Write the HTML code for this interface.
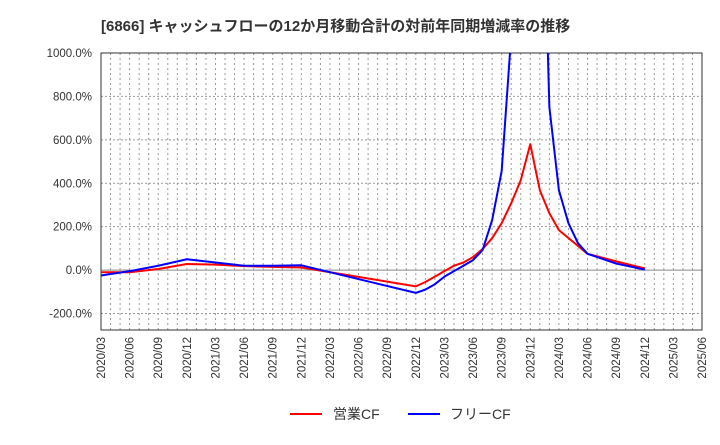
<!DOCTYPE html>
<html><head><meta charset="utf-8"><style>
body{margin:0;background:#fff;font-family:"Liberation Sans","Noto Sans CJK JP",sans-serif;}
svg text{font-family:"Liberation Sans","Noto Sans CJK JP",sans-serif;}
</style></head><body>
<svg id="c" width="720" height="440" xmlns="http://www.w3.org/2000/svg">
<text x="101" y="31" font-size="15" font-weight="bold" fill="#333">[6866]  キャッシュフローの12か月移動合計の対前年同期増減率の推移</text>
<g id="grid"></g><g id="axes"></g><g id="series"></g>
<g>
<line x1="290" y1="414" x2="322" y2="414" stroke="#f00" stroke-width="2"/>
<text x="333" y="419" font-size="14" fill="#333">営業CF</text>
<line x1="408" y1="414" x2="440" y2="414" stroke="#00f" stroke-width="2"/>
<text x="450" y="419" font-size="14" fill="#333">フリーCF</text>
</g>
</svg>
<script>
const xLabels=["2020/03","2020/06","2020/09","2020/12","2021/03","2021/06","2021/09","2021/12","2022/03","2022/06","2022/09","2022/12","2023/03","2023/06","2023/09","2023/12","2024/03","2024/06","2024/09","2024/12","2025/03","2025/06"];
const yTicks=[-200,0,200,400,600,800,1000];
const opMonths=[0,3,6,9,12,15,18,21,33,34,35,36,37,38,39,40,41,42,43,44,45,46,47,48,51,54,57];
const opValues=[-10,-10,5,28,25,18,15,12,-75,-55,-30,-5,20,35,60,97,147,216,308,414,580,368,262,184,75,40,8];
const fcfMonths=[0,3,6,9,12,15,18,21,33,34,35,36,37,38,39,40,41,42,43,44,45,46,47,48,49,50,51,54,57];
const fcfValues=[-25,-5,20,50,35,20,20,22,-105,-90,-65,-30,-5,20,46,92,230,456,1080,2000,3000,2330,751,368,216,124,75,30,2];
const L=101,R=702,T=53,B=330,yMin=-276,yMax=1000;
const xs=m=>L+m*(R-L)/63;
const ys=v=>B-(v-yMin)*(B-T)/(yMax-yMin);
const NS="http://www.w3.org/2000/svg";
function mk(tag,parent,attrs){const e=document.createElementNS(NS,tag);for(const k in attrs)e.setAttribute(k,attrs[k]);parent.appendChild(e);return e;}
const grid=document.getElementById('grid'),axes=document.getElementById('axes'),ser=document.getElementById('series');
for(let m=0;m<=63;m++){const l=mk('line',grid,{x1:xs(m),x2:xs(m),y1:T,y2:B,stroke:'#999','stroke-width':1,'stroke-dasharray':'2,3'});

}
yTicks.forEach(v=>{const l=mk('line',grid,{x1:L,x2:R,y1:ys(v),y2:ys(v),stroke:v===0?'#888':'#999','stroke-width':1,'stroke-dasharray':v===0?'none':'2,2'});


const t=mk('text',axes,{x:92,y:ys(v)+4,'text-anchor':'end','font-size':11.5,fill:'#333'});t.textContent=v.toFixed(1)+'%';

});
xLabels.forEach((s,i)=>{const x=xs(i*3);const t=mk('text',axes,{x:0,y:0,'text-anchor':'end','font-size':11.5,fill:'#333',transform:`translate(${x+4},337) rotate(-90)`});t.textContent=s;

});
const fr=mk('rect',axes,{x:L,y:T,width:R-L,height:B-T,fill:'none',stroke:'#333','stroke-width':1});


const cp=mk('clipPath',ser,{id:'clip'});mk('rect',cp,{x:L,y:T,width:R-L,height:B-T});
function line(ms,vs,color,name){const p=mk('polyline',ser,{points:ms.map((m,i)=>xs(m)+','+ys(vs[i])).join(' '),fill:'none',stroke:color,'stroke-width':2,'clip-path':'url(#clip)','stroke-linejoin':'round'});

}
line(opMonths,opValues,'#f00','operating-cf-line');
line(fcfMonths,fcfValues,'#00f','free-cf-line');
</script>
</body></html>
